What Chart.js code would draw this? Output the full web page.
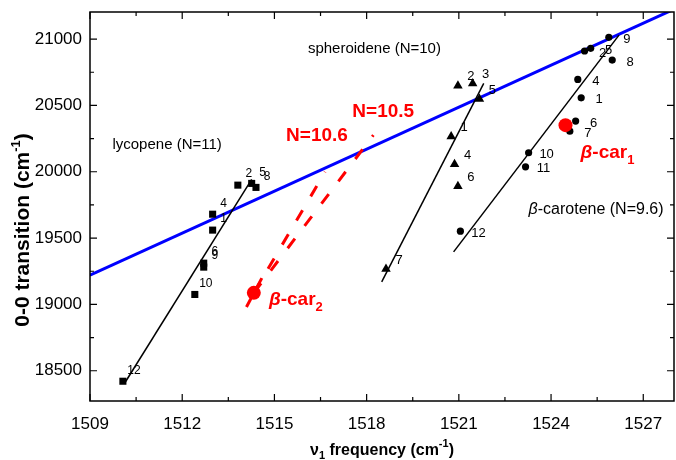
<!DOCTYPE html>
<html lang="en">
<head>
<meta charset="UTF-8">
<title>0-0 transition vs v1 frequency</title>
<script src="https://cdn.jsdelivr.net/npm/chart.js@4"></script>
<style>
  body { margin: 0; background: #fff; }
  #wrap { width: 676px; height: 460px; }
</style>
</head>
<body>
<div id="wrap"><canvas id="chart"></canvas></div>
<script>
// lycopene (N=11), squares
const lycX = [1510.07, 1512.41, 1512.70, 1512.70, 1512.99, 1512.99, 1513.81, 1514.26, 1514.40];
const lycY = [18421, 19075, 19311, 19281, 19560, 19680, 19899, 19912, 19882];
const lycLabels = ['12', '10', '6', '9', '1', '4', '2', '5', '8'];

// spheroidene (N=10), triangles
const sphX = [1520.97, 1521.45, 1521.67, 1520.75, 1520.86, 1520.97, 1518.63];
const sphY = [20648, 20666, 20548, 20266, 20057, 19891, 19266];
const sphLabels = ['2', '3', '5', '1', '4', '6', '7'];

// beta-carotene (N=9.6), circles
const carX = [1525.88, 1525.09, 1525.29, 1525.99, 1524.87, 1524.98, 1524.80, 1524.61, 1523.27, 1523.17, 1521.05];
const carY = [21013, 20910, 20930, 20842, 20696, 20557, 20382, 20306, 20143, 20037, 19552];
const carLabels = ['9', '2', '5', '8', '4', '1', '6', '7', '10', '11', '12'];

// beta-car1 / beta-car2 (red)
const redX = [1524.47, 1514.33];
const redY = [20351, 19087];

// fitted lines (end points)
const blueX = [1509, 1528];
const blueY = [19220, 21225];
const lycFitX = [1510.12, 1514.26];
const lycFitY = [18404, 19942];
const sphFitX = [1518.49, 1521.81];
const sphFitY = [19170, 20666];
const carFitX = [1520.83, 1526.21];
const carFitY = [19396, 21030];
const redSolidX = [1514.09, 1514.59];
const redSolidY = [18981, 19198];
const n106X = [1514.33, 1516.65];
const n106Y = [19087, 19999];
const n105X = [1514.33, 1518.22];
const n105Y = [19087, 20276];

// axes
const xTickLabels = [1509, 1512, 1515, 1518, 1521, 1524, 1527];
const yTickLabels = [18500, 19000, 19500, 20000, 20500, 21000];

const pts = (xs, ys) => xs.map((x, i) => ({ x: x, y: ys[i] }));
const FONT = '"Liberation Sans", Arial, sans-serif';

function line(xs, ys, color, width, dash, order) {
  return {
    data: pts(xs, ys), showLine: true, borderColor: color, borderWidth: width,
    borderDash: dash || [], pointRadius: 0, order: order
  };
}

// draw a run of text pieces (sub/superscripts, italic beta)
function drawRich(ctx, x, y, parts, align) {
  let w = 0;
  parts.forEach(p => { ctx.font = p.font; p.w = ctx.measureText(p.t).width; w += p.w; });
  let cx = align === 'center' ? x - w / 2 : x;
  ctx.textAlign = 'left';
  ctx.textBaseline = 'alphabetic';
  parts.forEach(p => { ctx.font = p.font; ctx.fillText(p.t, cx, y + (p.dy || 0)); cx += p.w; });
}

const pointLabels = [
  { xs: lycX, ys: lycY, labels: lycLabels, dx: 11, dy: -11, size: 12 },
  { xs: sphX, ys: sphY, labels: sphLabels, dx: 13, dy: -9, size: 13 },
  { xs: carX, ys: carY, labels: carLabels, dx: 18, dy: 2, size: 13 }
];

const plotText = {
  id: 'plotText',
  afterDatasetsDraw(chart) {
    const ctx = chart.ctx, xs = chart.scales.x, ys = chart.scales.y;
    ctx.save();
    ctx.fillStyle = '#000';
    pointLabels.forEach(s => {
      ctx.font = s.size + 'px ' + FONT;
      ctx.textAlign = 'center';
      ctx.textBaseline = 'middle';
      s.labels.forEach((t, i) => {
        ctx.fillText(t, xs.getPixelForValue(s.xs[i]) + s.dx, ys.getPixelForValue(s.ys[i]) + s.dy);
      });
    });

    const n = '15px ' + FONT, nb = '16px ' + FONT, ni = 'italic 16px ' + FONT;
    drawRich(ctx, xs.getPixelForValue(1509.73), ys.getPixelForValue(20208) + 5, [{ t: 'lycopene (N=11)', font: n }], 'left');
    drawRich(ctx, xs.getPixelForValue(1516.09), ys.getPixelForValue(20932) + 5, [{ t: 'spheroidene (N=10)', font: n }], 'left');
    drawRich(ctx, xs.getPixelForValue(1523.27), ys.getPixelForValue(19726) + 6,
      [{ t: 'β', font: ni }, { t: '-carotene (N=9.6)', font: nb }], 'left');

    ctx.fillStyle = '#ff0000';
    const b = 'bold 19px ' + FONT, bi = 'italic bold 19px ' + FONT, bs = 'bold 13px ' + FONT;
    drawRich(ctx, xs.getPixelForValue(1516.385), ys.getPixelForValue(20284) + 7, [{ t: 'N=10.6', font: b }], 'center');
    drawRich(ctx, xs.getPixelForValue(1518.54), ys.getPixelForValue(20465) + 7, [{ t: 'N=10.5', font: b }], 'center');
    drawRich(ctx, xs.getPixelForValue(1524.96), ys.getPixelForValue(20155) + 7,
      [{ t: 'β', font: bi }, { t: '-car', font: b }, { t: '1', font: bs, dy: 6 }], 'left');
    drawRich(ctx, xs.getPixelForValue(1514.82), ys.getPixelForValue(19047) + 7,
      [{ t: 'β', font: bi }, { t: '-car', font: b }, { t: '2', font: bs, dy: 6 }], 'left');
    ctx.restore();
  },
  afterDraw(chart) {
    const ctx = chart.ctx, a = chart.chartArea, xs = chart.scales.x, ys = chart.scales.y;
    ctx.save();
    ctx.strokeStyle = '#000';
    ctx.lineWidth = 1.5;
    ctx.strokeRect(a.left, a.top, a.right - a.left, a.bottom - a.top);
    ctx.lineWidth = 1.2;
    ctx.beginPath();
    xs.ticks.forEach(t => {
      const px = xs.getPixelForValue(t.value);
      const len = xTickLabels.includes(t.value) ? 7 : 4;
      ctx.moveTo(px, a.bottom); ctx.lineTo(px, a.bottom - len);
      ctx.moveTo(px, a.top); ctx.lineTo(px, a.top + len);
    });
    ys.ticks.forEach(t => {
      const py = ys.getPixelForValue(t.value);
      const len = yTickLabels.includes(t.value) ? 7 : 4;
      ctx.moveTo(a.left, py); ctx.lineTo(a.left + len, py);
      ctx.moveTo(a.right, py); ctx.lineTo(a.right - len, py);
    });
    ctx.stroke();

    // axis titles
    ctx.fillStyle = '#000';
    const tb = 'bold 16px ' + FONT, ts = 'bold 11px ' + FONT;
    drawRich(ctx, (a.left + a.right) / 2, 455, [
      { t: 'ν', font: tb }, { t: '1', font: ts, dy: 4 }, { t: ' frequency (cm', font: tb },
      { t: '-1', font: ts, dy: -8 }, { t: ')', font: tb }
    ], 'center');
    ctx.translate(22, 230);
    ctx.rotate(-Math.PI / 2);
    const yb = 'bold 21px ' + FONT, ysub = 'bold 13px ' + FONT;
    drawRich(ctx, 0, 7, [
      { t: '0-0 transition (cm', font: yb }, { t: '-1', font: ysub, dy: -9 }, { t: ')', font: yb }
    ], 'center');
    ctx.restore();
  }
};

new Chart(document.getElementById('chart'), {
  type: 'scatter',
  data: {
    datasets: [
      line(blueX, blueY, '#0000ff', 3, null, 10),
      line(lycFitX, lycFitY, '#000', 1.5, null, 8),
      line(sphFitX, sphFitY, '#000', 1.5, null, 8),
      line(carFitX, carFitY, '#000', 1.5, null, 8),
      line(redSolidX, redSolidY, '#ff0000', 3, null, 7),
      line(n106X, n106Y, '#ff0000', 3, [12, 16], 7),
      line(n105X, n105Y, '#ff0000', 3, [12, 16], 7),
      { data: pts(lycX, lycY), pointStyle: 'rect', pointRadius: 5, backgroundColor: '#000', borderWidth: 0, order: 2 },
      { data: pts(sphX, sphY), pointStyle: 'triangle', pointRadius: 5.5, backgroundColor: '#000', borderWidth: 0, order: 2 },
      { data: pts(carX, carY), pointStyle: 'circle', pointRadius: 3.6, backgroundColor: '#000', borderWidth: 0, order: 2 },
      { data: pts(redX, redY), pointStyle: 'circle', pointRadius: 7, backgroundColor: '#ff0000', borderWidth: 0, order: 1 }
    ]
  },
  options: {
    responsive: true,
    maintainAspectRatio: false,
    animation: false,
    layout: { autoPadding: false, padding: { top: 12, right: 2, left: 0, bottom: 0 } },
    plugins: { legend: { display: false }, tooltip: { enabled: false } },
    scales: {
      x: {
        type: 'linear', min: 1509, max: 1528,
        grid: { display: false, drawTicks: false }, border: { display: false },
        afterFit(scale) { scale.height = 59; scale.paddingLeft = 0; scale.paddingRight = 0; },
        ticks: {
          stepSize: 1.5, includeBounds: false, autoSkip: false, maxRotation: 0,
          padding: 13, color: '#000', font: { family: FONT, size: 17 },
          callback: v => xTickLabels.includes(v) ? String(v) : ''
        }
      },
      y: {
        type: 'linear', min: 18272, max: 21204,
        grid: { display: false, drawTicks: false }, border: { display: false },
        afterFit(scale) { scale.width = 90; scale.paddingTop = 0; scale.paddingBottom = 0; },
        ticks: {
          stepSize: 250, includeBounds: false, autoSkip: false,
          padding: 8, color: '#000', font: { family: FONT, size: 17 },
          callback: v => yTickLabels.includes(v) ? String(v) : ''
        }
      }
    }
  },
  plugins: [plotText]
});
</script>
</body>
</html>
